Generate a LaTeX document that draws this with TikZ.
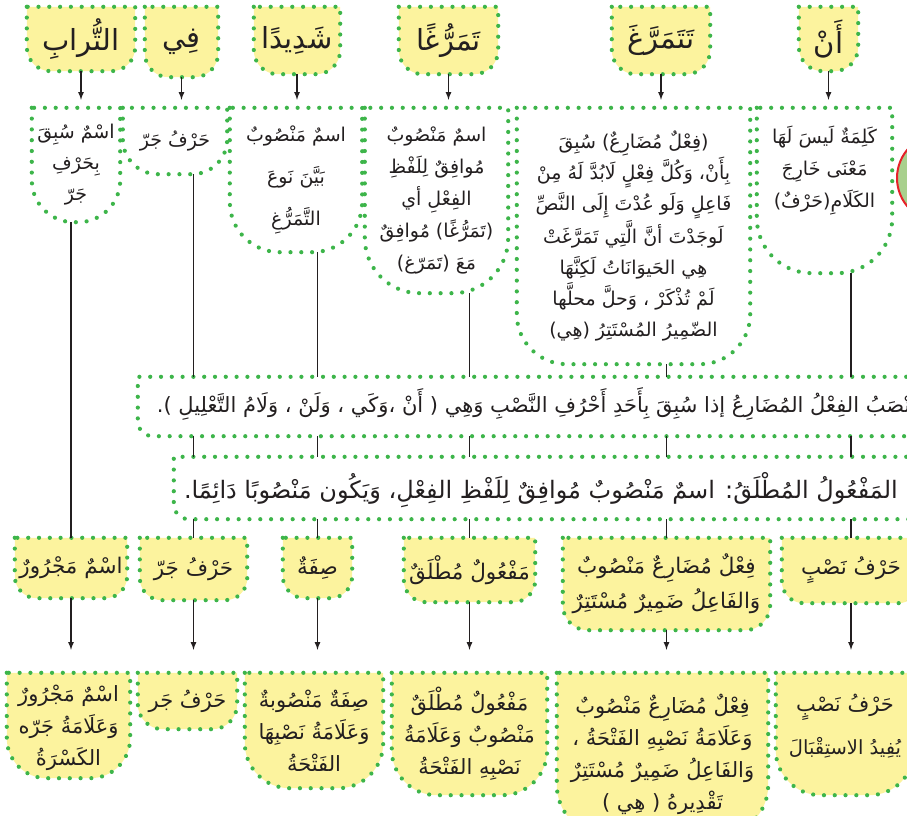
\documentclass[tikz,border=0pt]{standalone}
\usepackage{fontspec}
\usepackage{tikz}
\usetikzlibrary{calc,positioning,backgrounds}
\newfontfamily\arabicfont[Script=Arabic]{DejaVu Sans}
\TeXXeTstate=1
\newcommand{\rl}[1]{\beginR #1\endR}
\definecolor{dotgreen}{HTML}{3DB54A}
\definecolor{paleyellow}{HTML}{FCF39E}
\definecolor{inkgray}{HTML}{231F20}
\definecolor{ringred}{HTML}{E62129}
\definecolor{ringgreen}{HTML}{A8D08D}

\tikzset{
  dotline/.style={draw=dotgreen,line width=4.2pt,line cap=round,dash pattern=on 0pt off 10.8pt},
  cell/.style={inner sep=0pt,align=center,text=inkgray},
  wordbox/.style={cell,font=\arabicfont\fontsize{29}{34}\selectfont},
  defbox/.style={cell,font=\arabicfont\fontsize{19}{31}\selectfont},
  rolebox/.style={cell,font=\arabicfont\fontsize{21.5}{35}\selectfont},
  signbox/.style={cell,font=\arabicfont\fontsize{21}{32}\selectfont},
  conn/.style={draw=inkgray,line width=1.6pt},
}

% flat top, rounded bottom corners, drawn behind node #1
\newcommand{\cupshape}[3]{%
  \begin{pgfonlayer}{background}
  \draw[dotline,fill=#3] (#1.north west) -- ([yshift=#2]#1.south west)
    arc[start angle=180,end angle=270,radius=#2]
    -- ([xshift=-#2]#1.south east)
    arc[start angle=270,end angle=360,radius=#2]
    -- (#1.north east) -- cycle;
  \end{pgfonlayer}}
% band, open to the right
\newcommand{\bandshape}[2]{%
  \begin{pgfonlayer}{background}
  \draw[dotline,fill=white] (#1.north east) -- (#1.north west)
    -- ([yshift=#2]#1.south west)
    arc[start angle=180,end angle=270,radius=#2]
    -- (#1.south east);
  \end{pgfonlayer}}

\begin{document}
\begin{tikzpicture}[x=1pt,y=-1pt]
\useasboundingbox (0,0) rectangle (907,816);

% row 1: words of the sentence
\node[wordbox,minimum width=59pt,minimum height=64pt] (word1) at (828.5,39) {\rl{أَنْ}};
\node[wordbox,minimum width=98pt,minimum height=67pt] (word2) at (661,40.5) {\rl{تَتَمَرَّغَ}};
\node[wordbox,minimum width=99pt,minimum height=67pt] (word3) at (448.5,40.5) {\rl{تَمَرُّغًا}};
\node[wordbox,minimum width=86pt,minimum height=67pt] (word4) at (297,40.5) {\rl{شَدِيدًا}};
\node[wordbox,minimum width=73pt,minimum height=70pt] (word5) at (181.5,42) {\rl{فِي}};
\node[wordbox,minimum width=108pt,minimum height=64pt] (word6) at (81,39) {\rl{التُّرابِ}};
\foreach \n in {1,...,6} {\cupshape{word\n}{24pt}{paleyellow}}

% row 2: why
\node[defbox,font=\arabicfont\fontsize{19}{32}\selectfont,minimum width=135pt,minimum height=165pt,text depth=48pt] (def1) at (824.5,190.5)
  {\rl{كَلِمَةٌ لَيسَ لَهَا}\\ \rl{مَعْنَى خَارِجَ}\\ \rl{الكَلَامِ(حَرْفٌ)}};
\node[defbox,minimum width=233pt,minimum height=256pt] (def2) at (633.5,236)
  {\rl{(فِعْلٌ مُضَارِعٌ) سُبِقَ}\\
   \rl{بِأَنْ، وَكُلَّ فِعْلٍ لَابُدَّ لَهُ مِنْ}\\
   \rl{فَاعِلٍ وَلَو عُدْتَ إِلَى النَّصِّ}\\
   \rl{لَوجَدْتَ أنَّ الَّتِي تَمَرَّغَتْ}\\
   \rl{هِي الحَيوَانَاتُ لَكِنَّهَا}\\
   \rl{لَمْ تُذْكَرْ ، وَحلَّ محلَّها}\\
   \rl{الضّمِيرُ المُسْتَتِرُ (هِي)}};
\node[defbox,font=\arabicfont\fontsize{19}{32}\selectfont,minimum width=143pt,minimum height=185pt] (def3) at (436.5,200.5)
  {\rl{اسمٌ مَنْصُوبٌ}\\ \rl{مُوافِقٌ لِلَفْظِ}\\ \rl{الفِعْلِ أي}\\ \rl{(تَمَرُّغًا) مُوافِقٌ}\\ \rl{مَعَ (تَمَرّغ)}};
\node[defbox,font=\arabicfont\fontsize{19}{42}\selectfont,minimum width=132pt,minimum height=144pt] (def4) at (296,180)
  {\rl{اسمٌ مَنْصُوبٌ}\\ \rl{بَيَّنَ نَوعَ}\\ \rl{التَّمَرُّغِ}};
\node[defbox,minimum width=104pt,minimum height=66pt] (def5) at (175,141) {\rl{حَرْفُ جَرّ}};
\node[defbox,minimum width=88pt,minimum height=114pt] (def6) at (76,165)
  {\rl{اسْمٌ سُبِقَ}\\ \rl{بِحَرْفِ}\\ \rl{جَرّ}};
\cupshape{def1}{55pt}{white}
\cupshape{def2}{50pt}{white}
\cupshape{def3}{55pt}{white}
\cupshape{def4}{50pt}{white}
\cupshape{def5}{35pt}{white}
\cupshape{def6}{42pt}{white}

% the two rules
\node[minimum width=822pt,minimum height=59pt] (rule1) at (549,406.5) {};
\node[minimum width=786pt,minimum height=62pt] (rule2) at (567,488) {};
\bandshape{rule1}{15pt}
\bandshape{rule2}{15pt}
\node[cell,anchor=east,font=\arabicfont\fontsize{21}{24}\selectfont] (ruletext1) at (917,404)
  {\rl{يُنْصَبُ الفِعْلُ المُضَارِعُ إذا سُبِقَ بِأَحَدِ أَحْرُفِ النَّصْبِ وَهِي ( أَنْ ،وَكَي ، وَلَنْ ، وَلَامُ التَّعْلِيلِ ).}};
\node[cell,anchor=east,font=\arabicfont\fontsize{24}{28}\selectfont] (ruletext2) at (898,490)
  {\rl{المَفْعُولُ المُطْلَقُ: اسمٌ مَنْصُوبٌ مُوافِقٌ لِلَفْظِ الفِعْلِ، وَيَكُون مَنْصُوبًا دَائِمًا.}};

% row 4: grammatical role
\node[rolebox,minimum width=138pt,minimum height=65pt] (role1) at (851,570.5) {\rl{حَرْفُ نَصْبٍ}};
\node[rolebox,minimum width=207pt,minimum height=92pt] (role2) at (666.5,584)
  {\rl{فِعْلٌ مُضَارِعٌ مَنْصُوبٌ}\\ \rl{وَالفَاعِلُ ضَمِيرٌ مُسْتَتِرٌ}};
\node[rolebox,minimum width=131pt,minimum height=64pt] (role3) at (469.5,570) {\rl{مَفْعُولٌ مُطْلَقٌ}};
\node[rolebox,minimum width=69pt,minimum height=60pt] (role4) at (317.5,568) {\rl{صِفَةٌ}};
\node[rolebox,minimum width=107pt,minimum height=62pt] (role5) at (193.5,569) {\rl{حَرْفُ جَرّ}};
\node[rolebox,minimum width=112pt,minimum height=60pt] (role6) at (71,568) {\rl{اسْمٌ مَجْرُورٌ}};
\cupshape{role1}{22pt}{paleyellow}
\cupshape{role2}{25pt}{paleyellow}
\cupshape{role3}{22pt}{paleyellow}
\cupshape{role4}{22pt}{paleyellow}
\cupshape{role5}{22pt}{paleyellow}
\cupshape{role6}{22pt}{paleyellow}

% row 5: full parsing
\node[signbox,font=\arabicfont\fontsize{21}{43}\selectfont,minimum width=138pt,minimum height=122pt,text depth=20pt] (sign1) at (845,734)
  {\rl{حَرْفُ نَصْبٍ}\\ {\fontsize{19.5}{43}\selectfont\rl{يُفِيدُ الاستِقْبَالَ}}};
\node[signbox,minimum width=211pt,minimum height=162pt] (sign2) at (662.5,754)
  {\rl{فِعْلٌ مُضَارِعٌ مَنْصُوبٌ}\\ \rl{وَعَلَامَةُ نَصْبِهِ الفَتْحَةُ ،}\\ \rl{وَالفَاعِلُ ضَمِيرٌ مُسْتَتِرٌ}\\ \rl{تَقْدِيرهُ ( هِي )}};
\node[signbox,minimum width=155pt,minimum height=122pt] (sign3) at (469.5,734)
  {\rl{مَفْعُولٌ مُطْلَقٌ}\\ \rl{مَنْصُوبٌ وَعَلَامَةُ}\\ \rl{نَصْبِهِ الفَتْحَةُ}};
\node[signbox,minimum width=138pt,minimum height=115pt] (sign4) at (314,730.5)
  {\rl{صِفَةٌ مَنْصُوبةٌ}\\ \rl{وَعَلَامَةُ نَصْبِهَا}\\ \rl{الفَتْحَةُ}};
\node[signbox,minimum width=99pt,minimum height=56pt] (sign5) at (187.5,701) {\rl{حَرْفُ جَر}};
\node[signbox,minimum width=123pt,minimum height=105pt,text depth=0pt] (sign6) at (68.5,725.5)
  {\rl{اسْمٌ مَجْرُورٌ}\\ \rl{وَعَلَامَةُ جَرّه}\\ \rl{الكَسْرَةُ}};
\cupshape{sign1}{45pt}{paleyellow}
\cupshape{sign2}{50pt}{paleyellow}
\cupshape{sign3}{45pt}{paleyellow}
\cupshape{sign4}{45pt}{paleyellow}
\cupshape{sign5}{25pt}{paleyellow}
\cupshape{sign6}{40pt}{paleyellow}

% ring cut by the right edge
\node[circle,draw=ringred,fill=ringgreen,line width=2pt,minimum size=88pt] (ring) at (941,178) {};

% connectors
\foreach \n in {1,...,6}
  \draw[conn,-latex,shorten >=8pt] (word\n.south) -- (word\n.south |- def\n.north);
\foreach \n in {1,...,5}
  {
  \draw[conn] (def\n.south -| role\n.north) -- (rule1.north -| role\n.north);
  \draw[conn] (rule1.south -| role\n.north) -- (rule2.north -| role\n.north);
  \draw[conn] (rule2.south -| role\n.north) -- (role\n.north);
  }
\draw[conn] (def6.south -| role6.north) -- (role6.north);
\foreach \n in {1,...,6}
  \draw[conn,-latex,shorten >=23pt] (role\n.south) -- (role\n.south |- sign\n.north);
\end{tikzpicture}
\end{document}
